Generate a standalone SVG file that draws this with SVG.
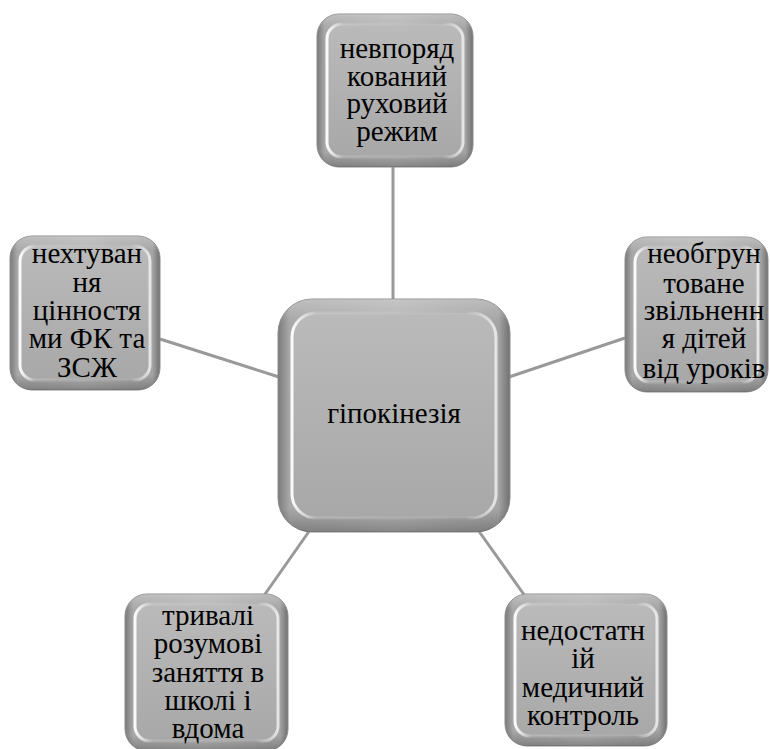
<svg xmlns="http://www.w3.org/2000/svg" width="770" height="749" viewBox="0 0 770 749">
<defs>
<linearGradient id="rim" x1="0" y1="0" x2="1" y2="0">
<stop offset="0" stop-color="#7a7a7a"/>
<stop offset="0.05" stop-color="#a8a8a8"/>
<stop offset="0.5" stop-color="#b3b3b3"/>
<stop offset="0.95" stop-color="#a4a4a4"/>
<stop offset="1" stop-color="#707070"/>
</linearGradient>
<linearGradient id="rimv" x1="0" y1="0" x2="0" y2="1">
<stop offset="0" stop-color="#ffffff" stop-opacity="0.25"/>
<stop offset="0.1" stop-color="#ffffff" stop-opacity="0"/>
<stop offset="0.9" stop-color="#000000" stop-opacity="0"/>
<stop offset="1" stop-color="#000000" stop-opacity="0.25"/>
</linearGradient>
<linearGradient id="face" x1="0" y1="0" x2="0" y2="1">
<stop offset="0" stop-color="#bababa"/>
<stop offset="1" stop-color="#a8a8a8"/>
</linearGradient>
<linearGradient id="hl" x1="0" y1="0" x2="1" y2="0">
<stop offset="0" stop-color="#ffffff" stop-opacity="0.95"/>
<stop offset="0.12" stop-color="#ffffff" stop-opacity="0.15"/>
<stop offset="0.85" stop-color="#ffffff" stop-opacity="0.05"/>
<stop offset="1" stop-color="#ffffff" stop-opacity="0.7"/>
</linearGradient>
</defs>
<style>
.rim{fill:url(#rim);stroke:#8c8c8c;stroke-width:1}
.shade{fill:url(#rimv)}
.face{fill:url(#face);stroke:url(#hl);stroke-width:3}
.t{font-size:29px;fill:#000;text-anchor:middle}
.c{stroke:#999999;stroke-width:3;fill:none}
</style>
<g id="connectors">
<line class="c" x1="393" y1="167" x2="393" y2="299"/>
<line class="c" x1="160" y1="339" x2="279" y2="377"/>
<line class="c" x1="509" y1="377" x2="625" y2="338"/>
<line class="c" x1="310" y1="530" x2="263" y2="597"/>
<line class="c" x1="478" y1="530" x2="525" y2="596"/>
</g>
<g font-family="Liberation Serif, DejaVu Serif, serif">
<g id="center">
<rect class="rim" x="278" y="299" width="232" height="233" rx="34"/>
<rect class="shade" x="278" y="299" width="232" height="233" rx="34"/>
<rect class="face" x="292" y="313" width="204" height="205" rx="24"/>
<text class="t" x="394" y="423">гіпокінезія</text>
</g>
<g id="top">
<rect class="rim" x="317" y="14" width="156" height="153" rx="22"/>
<rect class="shade" x="317" y="14" width="156" height="153" rx="22"/>
<rect class="face" x="327" y="24" width="136" height="133" rx="15"/>
<text class="t" x="397" y="58">невпоряд</text>
<text class="t" x="397" y="86">кований</text>
<text class="t" x="397" y="113">руховий</text>
<text class="t" x="397" y="141">режим</text>
</g>
<g id="left">
<rect class="rim" x="10" y="236" width="150" height="154" rx="22"/>
<rect class="shade" x="10" y="236" width="150" height="154" rx="22"/>
<rect class="face" x="20" y="246" width="130" height="134" rx="15"/>
<text class="t" x="87" y="263">нехтуван</text>
<text class="t" x="87" y="292">ня</text>
<text class="t" x="87" y="320">цінностя</text>
<text class="t" x="87" y="348">ми ФК та</text>
<text class="t" x="87" y="377">ЗСЖ</text>
</g>
<g id="right">
<rect class="rim" x="625" y="237" width="143" height="155" rx="22"/>
<rect class="shade" x="625" y="237" width="143" height="155" rx="22"/>
<rect class="face" x="635" y="247" width="123" height="135" rx="15"/>
<text class="t" x="704" y="263">необгрун</text>
<text class="t" x="704" y="293">товане</text>
<text class="t" x="704" y="320">звільненн</text>
<text class="t" x="704" y="348">я дітей</text>
<text class="t" x="704" y="378">від уроків</text>
</g>
<g id="bottom-left">
<rect class="rim" x="125" y="594" width="163" height="157" rx="22"/>
<rect class="shade" x="125" y="594" width="163" height="157" rx="22"/>
<rect class="face" x="135" y="604" width="143" height="137" rx="15"/>
<text class="t" x="208" y="625">тривалі</text>
<text class="t" x="208" y="653">розумові</text>
<text class="t" x="208" y="682">заняття в</text>
<text class="t" x="208" y="710">школі і</text>
<text class="t" x="208" y="738">вдома</text>
</g>
<g id="bottom-right">
<rect class="rim" x="505" y="594" width="162" height="152" rx="22"/>
<rect class="shade" x="505" y="594" width="162" height="152" rx="22"/>
<rect class="face" x="515" y="604" width="142" height="132" rx="15"/>
<text class="t" x="583" y="640">недостатн</text>
<text class="t" x="583" y="668">ій</text>
<text class="t" x="583" y="697">медичний</text>
<text class="t" x="583" y="725">контроль</text>
</g>
</g>
</svg>
